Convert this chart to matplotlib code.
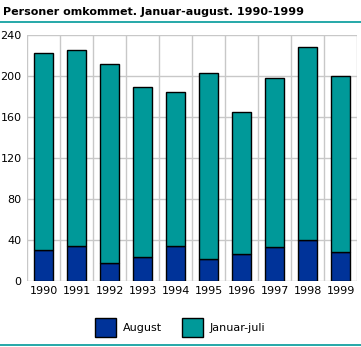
import matplotlib
matplotlib.use("Agg")
import matplotlib.pyplot as plt
import numpy as np
from matplotlib.patches import Patch
from matplotlib.lines import Line2D

years = ["1990", "1991", "1992", "1993", "1994", "1995", "1996", "1997", "1998", "1999"]
august = [30, 34, 18, 23, 34, 22, 26, 33, 40, 28]
total = [222, 225, 212, 189, 184, 203, 165, 198, 228, 200]
jan_jul = [t - a for t, a in zip(total, august)]

c_aug = "#003399"
c_jan = "#009999"

fig = plt.figure(figsize=(3.61, 3.47), dpi=100)
ax = fig.add_axes([0.075, 0.19, 0.914, 0.709])

x = np.arange(len(years))
ax.bar(x, august, width=0.6, color=c_aug, edgecolor="black", linewidth=1, zorder=3)
ax.bar(x, jan_jul, width=0.6, bottom=august, color=c_jan, edgecolor="black", linewidth=1, zorder=3)

ax.set_xlim(-0.5, len(years) - 0.5)
ax.set_ylim(0, 240)
ax.set_yticks(range(0, 241, 40))
ax.set_xticks(x)
ax.set_xticklabels(years)
ax.set_xticks(np.arange(-0.5, len(years), 1), minor=True)
ax.tick_params(which="both", length=0, labelsize=8, colors="black")
ax.tick_params(axis="y", pad=4)
ax.grid(axis="y", which="major", color="#c8c8c8", linewidth=1, zorder=0)
ax.grid(axis="x", which="minor", color="#c8c8c8", linewidth=1, zorder=0)
for s in ax.spines.values():
    s.set_visible(False)

fig.text(0.008, 0.965, "Personer omkommet. Januar-august. 1990-1999",
         fontsize=8, fontweight="bold", va="center", ha="left")
fig.add_artist(Line2D([0, 1], [0.937, 0.937], color=c_jan, linewidth=1.2))
fig.add_artist(Line2D([0, 1], [0.006, 0.006], color=c_jan, linewidth=1.2))

handles = [Patch(facecolor=c_aug, edgecolor="black", label="August"),
           Patch(facecolor=c_jan, edgecolor="black", label="Januar-juli")]
fig.legend(handles=handles, loc="center", bbox_to_anchor=(0.5, 0.057), ncol=2,
           frameon=False, fontsize=8, handlelength=1.9, handleheight=2.3,
           columnspacing=1.8, handletextpad=0.6)

fig.savefig("out.png", dpi=100)
